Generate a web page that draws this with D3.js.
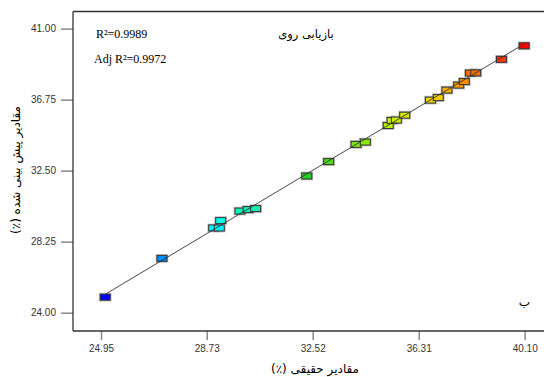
<!DOCTYPE html>
<html>
<head>
<meta charset="utf-8">
<script src="https://cdn.jsdelivr.net/npm/d3@7"></script>
<style>
  body { margin: 0; background: #fff; }
  svg { display: block; }
</style>
</head>
<body>
<div id="chart"></div>
<script>
const actual = [25.10, 27.13, 28.98, 29.18, 29.23, 29.92, 30.21, 30.48, 32.31, 33.09,
  34.07, 34.40, 35.22, 35.36, 35.51, 35.81, 36.73, 37.01, 37.32, 37.74,
  37.94, 38.16, 38.35, 39.27, 40.08];
const predicted = [24.93, 27.25, 29.07, 29.07, 29.51, 30.08, 30.17, 30.23, 32.18, 33.04,
  34.07, 34.21, 35.20, 35.50, 35.53, 35.82, 36.72, 36.87, 37.32, 37.62,
  37.83, 38.34, 38.35, 39.16, 39.97];
const xTicks = [24.95, 28.73, 32.52, 36.31, 40.10];
const xTickLabels = ['24.95', '28.73', '32.52', '36.31', '40.10'];
const yTicks = [24.00, 28.25, 32.50, 36.75, 41.00];
const yTickLabels = ['24.00', '28.25', '32.50', '36.75', '41.00'];
const colorStops = [24.9, 29.2, 32.2, 35.5, 36.8, 40.0];

const width = 544, height = 377;
const plotLeft = 73, plotTop = 11.5, plotBottom = 331;

const svg = d3.select('#chart').append('svg')
  .attr('width', width)
  .attr('height', height);

const x = d3.scaleLinear().domain([24.95, 40.10]).range([101, 524.7]);
const y = d3.scaleLinear().domain([24, 41]).range([312.7, 28.6]);
const color = d3.scaleLinear()
  .domain(colorStops)
  .range(['#0000ff', '#00ffff', '#22d522', '#c8f000', '#f5d000', '#ff0000']);

// frame
svg.append('line')
  .attr('x1', plotLeft).attr('x2', width).attr('y1', plotTop).attr('y2', plotTop)
  .attr('stroke', '#333').attr('stroke-width', 1.3);

const xAxis = g => g.attr('transform', `translate(0,${plotBottom})`)
  .call(d3.axisBottom(x).tickValues(xTicks).tickSize(9).tickPadding(5)
    .tickFormat((d, i) => xTickLabels[i]))
  .call(g => g.select('.domain').remove())
  .call(g => g.selectAll('.tick line').attr('stroke', '#888').attr('stroke-width', 1.5))
  .call(g => g.selectAll('.tick text').attr('fill', '#333')
    .attr('font-family', 'Liberation Sans, Arial, sans-serif').attr('font-size', 10));

const yAxis = g => g.attr('transform', `translate(${plotLeft},0)`)
  .call(d3.axisLeft(y).tickValues(yTicks).tickSize(12).tickPadding(5)
    .tickFormat((d, i) => yTickLabels[i]))
  .call(g => g.select('.domain').remove())
  .call(g => g.selectAll('.tick line').attr('stroke', '#888').attr('stroke-width', 1.5))
  .call(g => g.selectAll('.tick text').attr('fill', '#333')
    .attr('font-family', 'Liberation Sans, Arial, sans-serif').attr('font-size', 10));

svg.append('g').call(xAxis);
svg.append('g').call(yAxis);

svg.append('line')
  .attr('x1', plotLeft).attr('x2', plotLeft).attr('y1', plotTop).attr('y2', plotBottom)
  .attr('stroke', '#333').attr('stroke-width', 1.3);
svg.append('line')
  .attr('x1', plotLeft).attr('x2', width).attr('y1', plotBottom).attr('y2', plotBottom)
  .attr('stroke', '#333').attr('stroke-width', 1.3);

const data = actual.map((a, i) => ({ a, p: predicted[i] }));
const rw = 10, rh = 6;

const pts = svg.append('g');
pts.selectAll('rect.halo')
  .data(data)
  .join('rect')
  .attr('class', 'halo')
  .attr('x', d => x(d.a) - rw / 2)
  .attr('y', d => y(d.p) - rh / 2)
  .attr('width', rw).attr('height', rh)
  .attr('fill', 'none')
  .attr('stroke', '#bbb')
  .attr('stroke-width', 2.6);

pts.selectAll('rect.pt')
  .data(data)
  .join('rect')
  .attr('class', 'pt')
  .attr('x', d => x(d.a) - rw / 2)
  .attr('y', d => y(d.p) - rh / 2)
  .attr('width', rw).attr('height', rh)
  .attr('fill', d => color(d.p))
  .attr('stroke', '#333')
  .attr('stroke-width', 1);

// y = x reference line
const lo = d3.min(actual), hi = d3.max(actual);
svg.append('line')
  .attr('x1', x(lo)).attr('y1', y(lo))
  .attr('x2', x(hi)).attr('y2', y(hi))
  .attr('stroke', '#333').attr('stroke-width', 0.9);

// annotations
svg.append('text')
  .attr('x', 96).attr('y', 38)
  .attr('font-family', 'Liberation Serif, Times New Roman, serif').attr('font-size', 12)
  .text('R²=0.9989');
svg.append('text')
  .attr('x', 94).attr('y', 63)
  .attr('font-family', 'Liberation Serif, Times New Roman, serif').attr('font-size', 12)
  .text('Adj R²=0.9972');
svg.append('text')
  .attr('x', 306).attr('y', 38)
  .attr('direction', 'rtl')
  .attr('text-anchor', 'middle')
  .attr('font-family', 'DejaVu Sans, sans-serif').attr('font-size', 11.5)
  .text('بازیابی روی');
svg.append('text')
  .attr('x', 530).attr('y', 306)
  .attr('font-family', 'DejaVu Sans, sans-serif').attr('font-size', 12)
  .attr('text-anchor', 'end')
  .text('ب');

svg.append('text')
  .attr('x', 315).attr('y', 373)
  .attr('direction', 'rtl')
  .attr('text-anchor', 'middle')
  .attr('font-family', 'DejaVu Sans, sans-serif').attr('font-size', 12)
  .text('مقادیر حقیقی (٪)');
svg.append('text')
  .attr('transform', 'translate(20,170) rotate(-90)')
  .attr('direction', 'rtl')
  .attr('text-anchor', 'middle')
  .attr('font-family', 'DejaVu Sans, sans-serif').attr('font-size', 12)
  .text('مقادیر پیش بینی شده (٪)');
</script>
</body>
</html>
